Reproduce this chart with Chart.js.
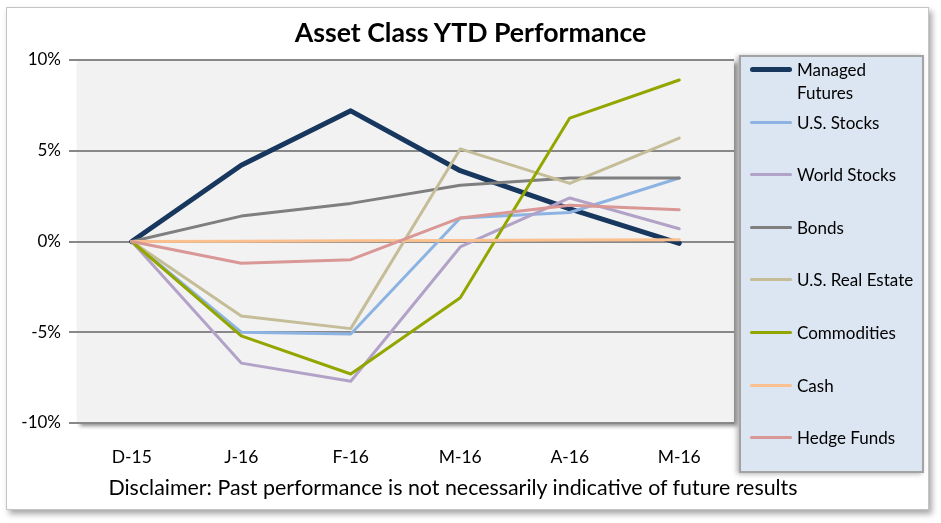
<!DOCTYPE html>
<html>
<head>
<meta charset="utf-8">
<script src="https://cdn.jsdelivr.net/npm/chart.js@4.4.0/dist/chart.umd.min.js"></script>
<style>
    body { margin: 0; background: #ffffff; font-family: Lato, "Noto Sans", sans-serif; }
    #wrap { position: relative; width: 941px; height: 523px; overflow: hidden; }
    #frame { position: absolute; left: 6px; top: 7px; width: 921px; height: 501px; border: 1px solid #c4c4c4; background: #fff; box-shadow: 3px 4px 6px rgba(0,0,0,0.35); }
    #chart { position: absolute; left: 0; top: 0; }
    #title { position: absolute; left: 0; width: 941px; top: 16px; text-align: center; font-weight: bold; font-size: 26.7px; color: #000; }
    #disclaimer { position: absolute; left: 0; width: 906px; top: 474px; text-align: center; font-size: 21.4px; color: #000; }
    #legend { position: absolute; left: 739px; top: 55px; width: 181px; height: 414px; background: #dce6f2; border: 2px solid #a3a3a3; box-shadow: -2px 1px 5px rgba(0,0,0,0.3); }
    .item { position: absolute; left: 0; width: 181px; font-size: 17px; line-height: 23px; color: #000; }
    .swatch { position: absolute; left: 9px; width: 42px; border-radius: 3px; }
    .label { position: absolute; left: 56px; width: 123px; }
</style>
</head>
<body>
<div id="wrap">
    <div id="frame"></div>
    <canvas id="chart" width="941" height="523"></canvas>
    <div id="title">Asset Class YTD Performance</div>
    <div id="disclaimer">Disclaimer: Past performance is not necessarily indicative of future results</div>
    <div id="legend"></div>
</div>
<script>
    // Données (en %)
    const categories = ['D-15', 'J-16', 'F-16', 'M-16', 'A-16', 'M-16'];
    const seriesNames = ['Managed Futures', 'U.S. Stocks', 'World Stocks', 'Bonds', 'U.S. Real Estate', 'Commodities', 'Cash', 'Hedge Funds'];
    const managedFutures = [0, 4.2, 7.2, 3.9, 1.8, -0.1];
    const usStocks = [0, -5.0, -5.1, 1.3, 1.6, 3.5];
    const worldStocks = [0, -6.7, -7.7, -0.3, 2.4, 0.7];
    const bonds = [0, 1.4, 2.1, 3.1, 3.5, 3.5];
    const usRealEstate = [0, -4.1, -4.8, 5.1, 3.2, 5.7];
    const commodities = [0, -5.2, -7.3, -3.1, 6.8, 8.9];
    const cash = [0, 0.02, 0.04, 0.06, 0.08, 0.1];
    const hedgeFunds = [0, -1.2, -1.0, 1.3, 2.0, 1.75];
    const yTicks = [-10, -5, 0, 5, 10];

    const seriesValues = [managedFutures, usStocks, worldStocks, bonds, usRealEstate, commodities, cash, hedgeFunds];
    const colors = ['#17375e', '#8db3e2', '#b3a2c7', '#7f7f7f', '#c4bd97', '#93a600', '#fac08f', '#d99795'];
    const widths = [5, 3, 3, 3, 3, 3, 3, 3];

    // Fond gris de la zone de tracé avec ombre
    const plotBackground = {
        id: 'plotBackground',
        beforeDraw(chart) {
            const a = chart.chartArea;
            const ctx = chart.ctx;
            ctx.save();
            ctx.shadowColor = 'rgba(0,0,0,0.45)';
            ctx.shadowBlur = 4;
            ctx.shadowOffsetX = 3;
            ctx.shadowOffsetY = 3;
            ctx.fillStyle = '#f2f2f2';
            ctx.fillRect(a.left, a.top, a.right - a.left, a.bottom - a.top);
            ctx.restore();
        }
    };

    const datasets = seriesNames.map((name, i) => ({
        label: name,
        data: seriesValues[i],
        borderColor: colors[i],
        backgroundColor: colors[i],
        borderWidth: widths[i],
        pointRadius: 0,
        tension: 0,
        borderCapStyle: 'round',
        borderJoinStyle: 'round',
        order: seriesNames.length - i
    }));

    const ctx = document.getElementById('chart').getContext('2d');
    const chart = new Chart(ctx, {
        type: 'line',
        data: { labels: categories, datasets: datasets },
        options: {
            responsive: false,
            animation: false,
            layout: { padding: { left: 0, right: 207, top: 60, bottom: 60 } },
            plugins: {
                legend: { display: false },
                title: { display: false },
                tooltip: { enabled: false }
            },
            scales: {
                x: {
                    offset: true,
                    grid: { display: false },
                    border: { display: false },
                    ticks: { color: '#000', padding: 16, font: { family: 'Lato', size: 17.5 } },
                    afterFit: scale => { scale.height = 40; }
                },
                y: {
                    min: -10,
                    max: 10,
                    afterBuildTicks: scale => { scale.ticks = yTicks.map(v => ({ value: v })); },
                    afterFit: scale => { scale.width = 77; },
                    grid: { color: '#888888', lineWidth: 2, tickLength: 8, tickColor: '#888888' },
                    border: { display: false },
                    ticks: {
                        color: '#000',
                        padding: 8,
                        font: { family: 'Lato', size: 17 },
                        callback: v => v + '%'
                    }
                }
            }
        },
        plugins: [plotBackground]
    });

    // Légende HTML construite à partir des séries
    const legend = document.getElementById('legend');
    chart.data.datasets.forEach((ds, i) => {
        const centerY = 12.5 + i * 52.6;
        const item = document.createElement('div');
        item.className = 'item';
        item.style.top = (centerY - 11.5) + 'px';
        const sw = document.createElement('div');
        sw.className = 'swatch';
        sw.style.top = (11.5 - ds.borderWidth / 2) + 'px';
        sw.style.height = ds.borderWidth + 'px';
        sw.style.background = ds.borderColor;
        const lb = document.createElement('div');
        lb.className = 'label';
        lb.textContent = ds.label;
        item.appendChild(sw);
        item.appendChild(lb);
        legend.appendChild(item);
    });
</script>
</body>
</html>
